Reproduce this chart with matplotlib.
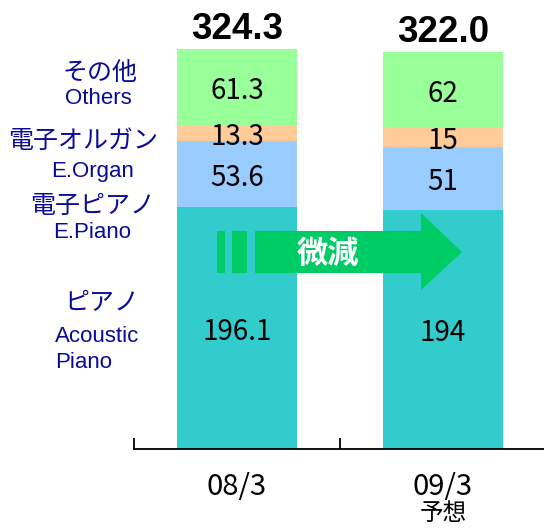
import matplotlib
matplotlib.use("Agg")
import matplotlib.pyplot as plt
from matplotlib.patches import Polygon, Rectangle

# データ（単位：千台）
periods = ["08/3", "09/3"]
period_notes = ["", "予想"]
piano = [196.1, 194]
epiano = [53.6, 51]
eorgan = [13.3, 15]
others = [61.3, 62]
totals = ["324.3", "322.0"]
seg_labels = [["196.1", "194"], ["53.6", "51"], ["13.3", "15"], ["61.3", "62"]]

colors = ["#33CCCC", "#99CCFF", "#FFCC99", "#99FF99"]
navy = "#0A0A99"
jp = ["Noto Sans CJK JP", "DejaVu Sans"]
en = ["Liberation Sans", "DejaVu Sans"]

W, H = 544, 529
fig = plt.figure(figsize=(W / 100, H / 100), dpi=100)

# 軸の位置（ピクセル→図座標）
base_px, left_px, right_px = 449, 134, 546
px_per_unit = 1.233
ymax = 350
ax = fig.add_axes([left_px / W, (H - base_px) / H,
                   (right_px - left_px) / W, ymax * px_per_unit / H])

x = [0, 1]
bottom = [0, 0]
for vals, col, labs in zip([piano, epiano, eorgan, others], colors, seg_labels):
    ax.bar(x, vals, width=0.587, bottom=bottom, color=col, linewidth=0)
    for i in x:
        ax.text(i, bottom[i] + vals[i] / 2 - 3, labs[i], ha="center", va="center",
                fontsize=20, family=jp, color="black")
    bottom = [b + v for b, v in zip(bottom, vals)]

for i in x:
    ax.text(i, bottom[i] + 16, totals[i], ha="center", va="center",
            fontsize=26.5, fontweight="bold", family=en, color="black")

ax.set_xlim(-0.5, 1.5)
ax.set_ylim(0, ymax)
for s in ["top", "right", "left"]:
    ax.spines[s].set_visible(False)
ax.spines["bottom"].set_linewidth(1.3)
ax.set_yticks([])
ax.set_xticks([-0.5, 0.5, 1.5])
ax.set_xticklabels([])
ax.tick_params(axis="x", direction="in", length=8, width=1.3)


def fx(px):
    return px / W


def fy(py):
    return 1 - py / H


# 期間ラベル
for i, (p, n) in enumerate(zip(periods, period_notes)):
    cx = fx(237 + 206 * i)
    fig.text(cx, fy(487), p, ha="center", va="center", fontsize=21, family=jp)
    if n:
        fig.text(cx, fy(514), n, ha="center", va="center", fontsize=17, family=jp)

# 左側の凡例ラベル
legend_jp = [("その他", 100, 73), ("電子オルガン", 83, 141), ("電子ピアノ", 93, 206), ("ピアノ", 102, 303)]
legend_en = [("Others", 98, 98), ("E.Organ", 93, 172), ("E.Piano", 92, 232)]
for t, px, py in legend_jp:
    fig.text(fx(px), fy(py), t, ha="center", va="center", fontsize=18, family=jp, color=navy)
for t, px, py in legend_en:
    fig.text(fx(px), fy(py), t, ha="center", va="center", fontsize=16, family=en, color=navy)
fig.text(fx(55), fy(336), "Acoustic", ha="left", va="center", fontsize=16, family=en, color=navy)
fig.text(fx(55), fy(362), "Piano", ha="left", va="center", fontsize=16, family=en, color=navy)

# 微減の矢印
green = "#00CC66"
for x0, x1 in [(217, 225), (232, 247)]:
    fig.patches.append(Rectangle((fx(x0), fy(273)), fx(x1 - x0), (273 - 231) / H,
                                 transform=fig.transFigure, color=green, linewidth=0))
arrow_pts = [(255, 231), (421, 231), (421, 213), (462, 252), (421, 290), (421, 273), (255, 273)]
fig.patches.append(Polygon([(fx(a), fy(b)) for a, b in arrow_pts], closed=True,
                           transform=fig.transFigure, color=green, linewidth=0))
fig.text(fx(328), fy(254), "微減", ha="center", va="center", fontsize=22.5,
         fontweight="bold", family=jp, color="white")

fig.savefig("out.png", dpi=100)
